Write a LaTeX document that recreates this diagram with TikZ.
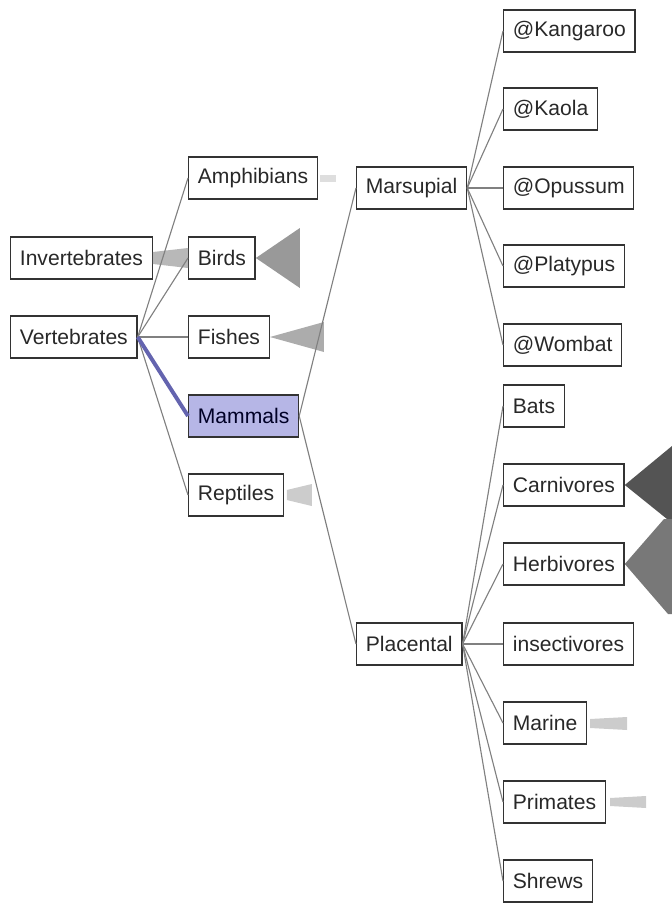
\documentclass[tikz,border=0pt]{standalone}
\usepackage{fontspec}
\setmainfont{Liberation Sans}
\usepackage{tikz}
\usetikzlibrary{positioning}
\usetikzlibrary{calc}
\definecolor{mamfill}{RGB}{182,182,230}
\definecolor{mamline}{RGB}{100,100,175}
\definecolor{boxtext}{RGB}{40,40,40}
\tikzstyle{taxon} = [draw=black!80, line width=1pt, rectangle, anchor=west, minimum height=1.05cm, inner xsep=0.23cm, text=boxtext, font=\fontsize{15}{17}\selectfont]
\tikzstyle{chosen} = [taxon, fill=mamfill, text=black!85!blue]
\tikzstyle{link} = [draw=gray, line width=0.8pt]
\tikzstyle{hilink} = [draw=mamline, line width=2.8pt]

\begin{document}
\begin{tikzpicture}[x=0.025cm,y=-0.025cm]%1 unit = 1 px of the screenshot
    \useasboundingbox (0,0) rectangle (672,903);
    \node [taxon] (inv) at (10,258) {Invertebrates};
    \node [taxon] (vert) at (10,337) {Vertebrates};

    \node [taxon] (amph) at (188,178) {Amphibians};
    \node [taxon] (birds) at (188,258) {Birds};
    \node [taxon] (fishes) at (188,337) {Fishes};
    \node [chosen] (mammals) at (188,416) {Mammals};
    \node [taxon] (reptiles) at (188,495) {Reptiles};

    \node [taxon] (marsup) at (356,188) {Marsupial};
    \node [taxon] (placen) at (356,644) {Placental};

    \node [taxon] (kang) at (503,31) {@Kangaroo};
    \node [taxon] (kaola) at (503,109) {@Kaola};
    \node [taxon] (opuss) at (503,188) {@Opussum};
    \node [taxon] (platy) at (503,266) {@Platypus};
    \node [taxon] (wombat) at (503,345) {@Wombat};
    \node [taxon] (bats) at (503,406) {Bats};
    \node [taxon] (carni) at (503,485) {Carnivores};
    \node [taxon] (herbi) at (503,564) {Herbivores};
    \node [taxon] (insect) at (503,644) {insectivores};
    \node [taxon] (marine) at (503,723) {Marine};
    \node [taxon] (primates) at (503,802) {Primates};
    \node [taxon] (shrews) at (503,881) {Shrews};

    % collapsed branches
    \fill [black!28] ([yshift=0.15cm]inv.east) -- ([yshift=0.25cm]birds.west) -- ([yshift=-0.25cm]birds.west) -- ([yshift=-0.15cm]inv.east) -- cycle;
    \fill [gray!80] (birds.east) -- ++(44,-30) -- ++(0,60) -- cycle;
    \fill [gray!65] (fishes.east) -- ++(54,-15) -- ++(0,30) -- cycle;
    \fill [black!13] ([xshift=0.05cm]amph.east) ++(0,-3) rectangle ++(16,7);
    \fill [black!20] ([xshift=0.07cm]reptiles.east) ++(0,-5) -- ++(25,-6) -- ++(0,22) -- ++(-25,-6) -- cycle;
    \fill [black!67] (carni.east) -- (672,446) -- (672,523) -- cycle;
    \fill [black!53] (herbi.east) -- (664,519) -- (672,519) -- (672,614) -- (668,614) -- cycle;
    \fill [black!20] ([xshift=0.07cm]marine.east) ++(0,-4) -- ++(37,-2) -- ++(0,13) -- ++(-37,-2) -- cycle;
    \fill [black!20] ([xshift=0.1cm]primates.east) ++(0,-4) -- ++(36,-2) -- ++(0,12) -- ++(-36,-2) -- cycle;

    \draw [link] (vert.east) -- (amph.west);
    \draw [link] (vert.east) -- (birds.west);
    \draw [link] (vert.east) -- (fishes.west);
    \draw [link] (vert.east) -- (reptiles.west);
    \draw [hilink] (vert.east) -- (mammals.west);

    \draw [link] (mammals.east) -- (marsup.west);
    \draw [link] (mammals.east) -- (placen.west);

    \draw [link] (marsup.east) -- (kang.west);
    \draw [link] (marsup.east) -- (kaola.west);
    \draw [link] (marsup.east) -- (opuss.west);
    \draw [link] (marsup.east) -- (platy.west);
    \draw [link] (marsup.east) -- (wombat.west);

    \draw [link] (placen.east) -- (bats.west);
    \draw [link] (placen.east) -- (carni.west);
    \draw [link] (placen.east) -- (herbi.west);
    \draw [link] (placen.east) -- (insect.west);
    \draw [link] (placen.east) -- (marine.west);
    \draw [link] (placen.east) -- (primates.west);
    \draw [link] (placen.east) -- (shrews.west);
\end{tikzpicture}
\end{document}
